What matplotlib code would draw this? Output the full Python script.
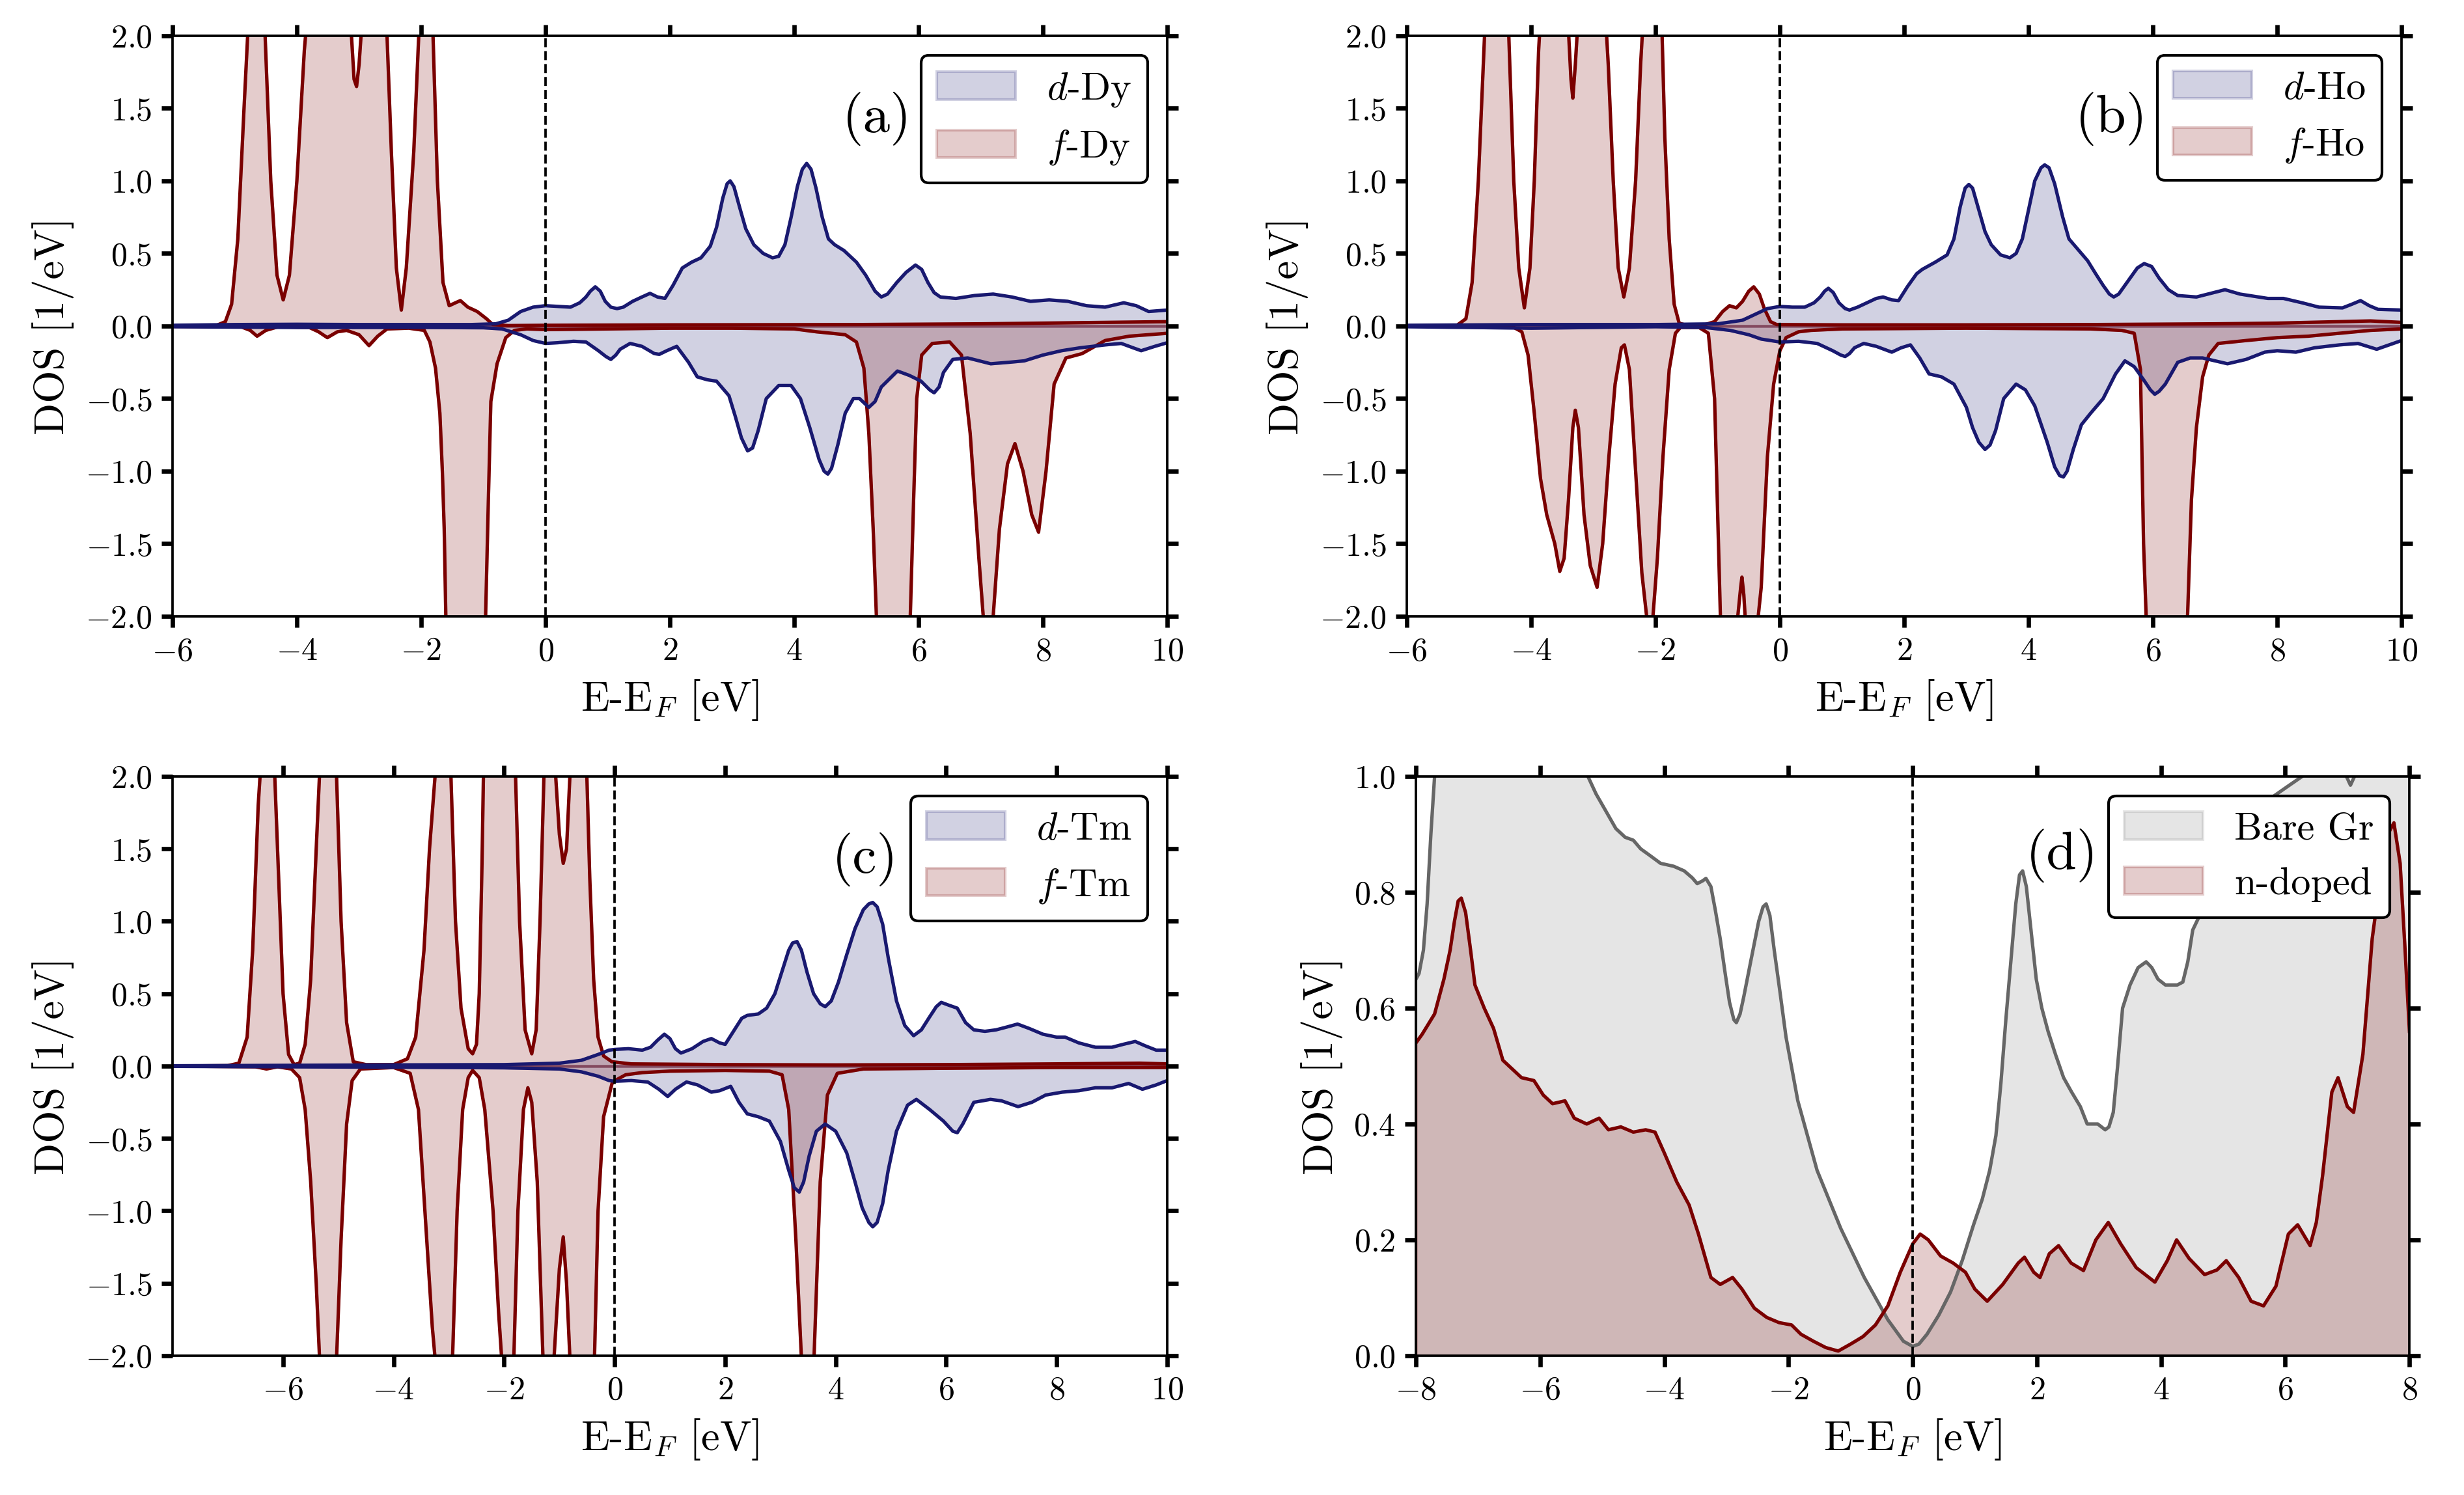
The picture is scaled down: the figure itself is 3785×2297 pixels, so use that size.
import matplotlib
matplotlib.use("Agg")
import matplotlib.pyplot as plt

plt.rcParams['font.family'] = 'serif'
plt.rcParams['font.serif'] = ['cmr10']
plt.rcParams['mathtext.fontset'] = 'cm'
plt.rcParams['axes.formatter.use_mathtext'] = True
plt.rcParams['axes.linewidth'] = 0.9

# ---------------- Panel (a): Dy ----------------
a_dup_E = [-6, -5, -4, -3, -2, -1.2, -0.8, -0.6, -0.4, -0.2, 0, 0.2, 0.4, 0.55, 0.65, 0.72, 0.8, 0.88, 0.96,
           1.05, 1.15, 1.25, 1.4, 1.55, 1.68, 1.8, 1.92, 2.05, 2.2, 2.35, 2.5, 2.65, 2.75, 2.85, 2.92, 2.97,
           3.03, 3.12, 3.22, 3.35, 3.5, 3.65, 3.75, 3.85, 3.95, 4.05, 4.13, 4.2, 4.27, 4.35, 4.45, 4.55, 4.65,
           4.8, 5.0, 5.15, 5.3, 5.4, 5.5, 5.65, 5.8, 5.95, 6.05, 6.15, 6.25, 6.35, 6.6, 6.9, 7.2, 7.5, 7.8,
           8.1, 8.4, 8.7, 9.0, 9.3, 9.5, 9.7, 10]
a_dup = [0.005, 0.01, 0.012, 0.01, 0.01, 0.01, 0.015, 0.04, 0.1, 0.13, 0.14, 0.135, 0.13, 0.16, 0.2, 0.24,
         0.27, 0.24, 0.17, 0.13, 0.12, 0.13, 0.17, 0.2, 0.225, 0.2, 0.19, 0.28, 0.4, 0.44, 0.47, 0.55, 0.68,
         0.88, 0.98, 1.0, 0.96, 0.82, 0.67, 0.56, 0.5, 0.47, 0.48, 0.56, 0.75, 0.96, 1.08, 1.12, 1.08, 0.95,
         0.75, 0.6, 0.56, 0.52, 0.44, 0.35, 0.24, 0.2, 0.22, 0.3, 0.37, 0.42, 0.39, 0.3, 0.23, 0.2, 0.19, 0.21,
         0.22, 0.2, 0.17, 0.18, 0.17, 0.14, 0.13, 0.16, 0.14, 0.1, 0.11]

a_ddn_E = [-6, -4, -2, -1, -0.7, -0.4, -0.2, 0, 0.2, 0.45, 0.65, 0.85, 0.97, 1.05, 1.13, 1.2, 1.36, 1.55, 1.75,
           1.83, 1.95, 2.11, 2.3, 2.44, 2.6, 2.75, 2.95, 3.05, 3.15, 3.25, 3.33, 3.42, 3.55, 3.75, 3.95, 4.1,
           4.25, 4.4, 4.48, 4.54, 4.6, 4.7, 4.82, 4.95, 5.05, 5.2, 5.3, 5.4, 5.66, 5.85, 6.04, 6.18, 6.25, 6.33,
           6.4, 6.55, 6.79, 7.16, 7.45, 7.7, 8.0, 8.3, 8.6, 9.0, 9.26, 9.45, 9.58, 9.8, 10]
a_ddn = [-0.005, -0.01, -0.01, -0.012, -0.02, -0.06, -0.1, -0.12, -0.115, -0.105, -0.11, -0.17, -0.21, -0.23,
         -0.2, -0.16, -0.12, -0.14, -0.19, -0.195, -0.17, -0.14, -0.25, -0.35, -0.37, -0.38, -0.48, -0.62,
         -0.77, -0.86, -0.84, -0.72, -0.5, -0.41, -0.41, -0.5, -0.7, -0.92, -1.0, -1.02, -0.98, -0.82, -0.6,
         -0.5, -0.5, -0.56, -0.52, -0.42, -0.31, -0.34, -0.38, -0.44, -0.46, -0.42, -0.32, -0.23, -0.22, -0.26,
         -0.25, -0.24, -0.2, -0.17, -0.15, -0.13, -0.12, -0.15, -0.17, -0.14, -0.115]

a_fup_E = [-6, -5.3, -5.15, -5.05, -4.95, -4.85, -4.78, -4.65, -4.52, -4.42, -4.32, -4.22, -4.12, -4.0, -3.88,
           -3.82, -3.6, -3.3, -3.15, -3.08, -3.04, -3.0, -2.92, -2.75, -2.6, -2.55, -2.48, -2.4, -2.32, -2.24,
           -2.12, -2.04, -1.92, -1.81, -1.74, -1.65, -1.55, -1.45, -1.37, -1.25, -1.1, -0.95, -0.85, -0.6, 0,
           2, 5, 7, 8, 9, 10]
a_fup = [0, 0.003, 0.03, 0.15, 0.6, 1.5, 2.1, 3.0, 2.1, 1.0, 0.35, 0.18, 0.35, 1.0, 1.9, 2.2, 3.5, 3.0, 2.2,
         1.7, 1.65, 1.8, 2.3, 3.0, 2.3, 2.0, 1.2, 0.4, 0.11, 0.4, 1.2, 2.0, 2.8, 2.0, 1.0, 0.3, 0.14, 0.16,
         0.175, 0.13, 0.1, 0.05, 0.01, 0.003, 0.005, 0.008, 0.01, 0.015, 0.02, 0.025, 0.03]

a_fdn_E = [-6, -4.9, -4.75, -4.64, -4.5, -4.3, -3.8, -3.65, -3.51, -3.35, -3.2, -3.0, -2.84, -2.7, -2.55, -2.2,
           -1.95, -1.86, -1.77, -1.7, -1.66, -1.63, -1.6, -1.5, -1.2, -0.97, -0.92, -0.88, -0.78, -0.64, -0.5,
           -0.3, 0, 1, 2, 3, 4, 4.36, 4.6, 4.82, 5.0, 5.12, 5.2, 5.27, 5.33, 5.5, 5.7, 5.86, 5.92, 5.97, 6.05,
           6.22, 6.5, 6.69, 6.83, 6.97, 7.04, 7.12, 7.2, 7.3, 7.43, 7.55, 7.68, 7.82, 7.93, 8.05, 8.18, 8.37,
           8.63, 9.0, 9.39, 10]
a_fdn = [-0.003, -0.005, -0.03, -0.07, -0.03, -0.005, -0.01, -0.04, -0.08, -0.04, -0.03, -0.06, -0.135, -0.07,
         -0.02, -0.015, -0.03, -0.11, -0.29, -0.6, -1.0, -1.4, -2.1, -3.0, -3.2, -2.1, -1.2, -0.52, -0.26, -0.08,
         -0.03, -0.02, -0.025, -0.02, -0.015, -0.015, -0.02, -0.04, -0.05, -0.06, -0.11, -0.29, -0.74, -1.4,
         -2.1, -3.0, -3.0, -2.1, -1.2, -0.5, -0.2, -0.12, -0.11, -0.2, -0.74, -1.6, -2.0, -2.12, -2.0, -1.4,
         -0.95, -0.81, -1.0, -1.3, -1.42, -1.0, -0.4, -0.22, -0.19, -0.1, -0.07, -0.05]

# ---------------- Panel (b): Ho ----------------
b_dup_E = [-6, -4, -2, -1, -0.6, -0.4, -0.2, 0, 0.2, 0.4, 0.55, 0.65, 0.72, 0.78, 0.86, 0.95, 1.05, 1.12, 1.25,
           1.4, 1.55, 1.66, 1.8, 1.91, 2.05, 2.2, 2.29, 2.5, 2.69, 2.8, 2.9, 2.98, 3.04, 3.1, 3.2, 3.3, 3.4,
           3.55, 3.7, 3.8, 3.9, 4.0, 4.1, 4.2, 4.26, 4.33, 4.42, 4.55, 4.65, 4.77, 4.95, 5.08, 5.2, 5.3, 5.37,
           5.45, 5.6, 5.75, 5.86, 5.98, 6.1, 6.25, 6.4, 6.7, 7.16, 7.4, 7.85, 8.1, 8.4, 8.67, 9.05, 9.2, 9.34,
           9.48, 9.62, 10]
b_dup = [0.005, 0.01, 0.01, 0.015, 0.04, 0.08, 0.12, 0.135, 0.13, 0.13, 0.16, 0.2, 0.24, 0.26, 0.23, 0.16,
         0.12, 0.11, 0.13, 0.16, 0.19, 0.2, 0.18, 0.175, 0.27, 0.36, 0.39, 0.44, 0.49, 0.6, 0.82, 0.95, 0.975,
         0.95, 0.8, 0.65, 0.56, 0.49, 0.47, 0.5, 0.6, 0.8, 1.0, 1.09, 1.11, 1.09, 0.98, 0.75, 0.6, 0.54, 0.45,
         0.36, 0.28, 0.22, 0.2, 0.22, 0.31, 0.4, 0.43, 0.41, 0.33, 0.25, 0.21, 0.2, 0.25, 0.22, 0.19, 0.19,
         0.16, 0.13, 0.125, 0.15, 0.175, 0.14, 0.115, 0.11]

b_ddn_E = [-6, -4, -3, -2, -1.2, -0.8, -0.5, -0.3, 0, 0.3, 0.6, 0.85, 0.98, 1.05, 1.12, 1.2, 1.35, 1.55, 1.8,
           1.95, 2.1, 2.25, 2.4, 2.6, 2.8, 3.0, 3.1, 3.2, 3.3, 3.38, 3.47, 3.6, 3.8, 3.95, 4.1, 4.3, 4.42, 4.5,
           4.56, 4.62, 4.72, 4.85, 5.0, 5.2, 5.4, 5.55, 5.7, 5.85, 5.96, 6.03, 6.1, 6.2, 6.4, 6.6, 6.8, 7.0,
           7.2, 7.5, 7.8, 8.0, 8.3, 8.6, 9.0, 9.3, 9.45, 9.6, 9.8, 10]
b_ddn = [-0.005, -0.015, -0.01, -0.005, -0.01, -0.03, -0.06, -0.09, -0.11, -0.105, -0.12, -0.17, -0.2, -0.21,
         -0.19, -0.15, -0.12, -0.14, -0.18, -0.15, -0.13, -0.22, -0.33, -0.35, -0.4, -0.56, -0.7, -0.8, -0.85,
         -0.82, -0.72, -0.5, -0.4, -0.44, -0.55, -0.8, -0.97, -1.03, -1.04, -1.0, -0.85, -0.68, -0.6, -0.5,
         -0.33, -0.24, -0.28, -0.37, -0.44, -0.47, -0.45, -0.4, -0.25, -0.22, -0.22, -0.24, -0.26, -0.23,
         -0.18, -0.17, -0.18, -0.15, -0.13, -0.12, -0.14, -0.16, -0.13, -0.1]

b_fup_E = [-6, -5.2, -5.05, -4.95, -4.85, -4.75, -4.6, -4.45, -4.36, -4.28, -4.2, -4.11, -4.02, -3.95, -3.88,
           -3.84, -3.6, -3.42, -3.36, -3.33, -3.29, -3.22, -3.0, -2.8, -2.76, -2.68, -2.6, -2.51, -2.42, -2.32,
           -2.24, -2.2, -2.05, -1.9, -1.85, -1.78, -1.7, -1.62, -1.5, -1.2, -1.05, -0.92, -0.81, -0.7, -0.6,
           -0.5, -0.42, -0.33, -0.25, -0.15, -0.05, 1, 3, 5, 7, 8, 9, 9.5, 10]
b_fup = [0, 0.003, 0.05, 0.3, 1.0, 2.0, 3.5, 2.4, 2.0, 1.0, 0.4, 0.125, 0.4, 1.0, 1.9, 2.2, 3.5, 2.2, 1.7,
         1.57, 1.8, 2.3, 3.5, 2.1, 1.8, 1.0, 0.4, 0.2, 0.4, 1.0, 1.8, 2.1, 3.0, 2.1, 1.3, 0.6, 0.15, 0.02,
         0.005, 0.01, 0.03, 0.1, 0.14, 0.125, 0.17, 0.24, 0.27, 0.22, 0.12, 0.03, 0.01, 0.008, 0.008, 0.01,
         0.015, 0.02, 0.03, 0.035, 0.025]

b_fdn_E = [-6, -4.3, -4.15, -4.05, -3.95, -3.85, -3.75, -3.62, -3.54, -3.47, -3.4, -3.33, -3.29, -3.24, -3.15,
           -3.05, -2.94, -2.85, -2.75, -2.65, -2.55, -2.5, -2.42, -2.32, -2.22, -2.13, -2.05, -1.97, -1.88,
           -1.78, -1.68, -1.6, -1.3, -1.15, -1.05, -1.0, -0.95, -0.85, -0.7, -0.63, -0.61, -0.58, -0.53, -0.45,
           -0.36, -0.3, -0.2, -0.1, 0, 0.1, 0.3, 0.5, 1, 3, 5, 5.5, 5.7, 5.8, 5.85, 5.9, 6.2, 6.55, 6.62, 6.7,
           6.8, 6.9, 7.05, 7.5, 8.0, 8.5, 9.0, 9.5, 10]
b_fdn = [-0.002, -0.005, -0.04, -0.2, -0.6, -1.05, -1.3, -1.5, -1.69, -1.6, -1.2, -0.7, -0.58, -0.7, -1.3,
         -1.65, -1.8, -1.5, -0.9, -0.4, -0.15, -0.13, -0.3, -1.0, -1.7, -2.05, -2.05, -1.6, -0.9, -0.3, -0.05,
         -0.01, -0.01, -0.05, -0.5, -1.3, -2.1, -2.5, -2.1, -1.8, -1.73, -1.85, -2.2, -2.5, -2.05, -1.8, -0.9,
         -0.4, -0.17, -0.08, -0.04, -0.03, -0.02, -0.015, -0.02, -0.03, -0.05, -0.3, -1.5, -2.1, -3.0, -2.1,
         -1.2, -0.7, -0.35, -0.2, -0.12, -0.1, -0.08, -0.07, -0.05, -0.03, -0.02]

# ---------------- Panel (c): Tm ----------------
c_dup_E = [-8, -6, -4, -2, -1, -0.6, -0.3, -0.1, 0, 0.25, 0.5, 0.65, 0.78, 0.9, 1.0, 1.1, 1.2, 1.4, 1.6, 1.75,
           1.9, 2.0, 2.15, 2.3, 2.4, 2.6, 2.75, 2.9, 3.05, 3.15, 3.22, 3.3, 3.38, 3.48, 3.6, 3.72, 3.81, 3.92,
           4.05, 4.2, 4.35, 4.5, 4.6, 4.67, 4.75, 4.85, 4.95, 5.1, 5.25, 5.41, 5.55, 5.7, 5.82, 5.91, 6.05,
           6.2, 6.35, 6.5, 6.7, 6.9, 7.1, 7.29, 7.5, 7.75, 8.0, 8.15, 8.4, 8.7, 9.0, 9.2, 9.42, 9.6, 9.8, 10]
c_dup = [0.002, 0.005, 0.008, 0.01, 0.02, 0.04, 0.08, 0.11, 0.115, 0.12, 0.11, 0.13, 0.18, 0.22, 0.19, 0.12,
         0.09, 0.12, 0.17, 0.19, 0.16, 0.15, 0.24, 0.33, 0.35, 0.36, 0.4, 0.5, 0.68, 0.8, 0.85, 0.86, 0.8,
         0.65, 0.5, 0.43, 0.41, 0.45, 0.58, 0.77, 0.95, 1.08, 1.12, 1.13, 1.1, 0.98, 0.75, 0.45, 0.28, 0.21,
         0.25, 0.34, 0.41, 0.44, 0.42, 0.4, 0.3, 0.25, 0.24, 0.25, 0.27, 0.29, 0.26, 0.22, 0.2, 0.2, 0.16, 0.13,
         0.13, 0.15, 0.17, 0.14, 0.11, 0.11]

c_ddn_E = [-8, -6, -4, -2, -1, -0.6, -0.3, -0.1, 0, 0.3, 0.6, 0.8, 0.96, 1.1, 1.3, 1.5, 1.75, 1.9, 2.1, 2.25,
           2.4, 2.6, 2.8, 3.0, 3.15, 3.25, 3.34, 3.42, 3.52, 3.65, 3.81, 4.0, 4.2, 4.35, 4.48, 4.6, 4.67, 4.75,
           4.85, 4.95, 5.1, 5.3, 5.46, 5.7, 5.95, 6.12, 6.2, 6.3, 6.5, 6.8, 7.0, 7.3, 7.55, 7.8, 8.1, 8.4, 8.7,
           9.0, 9.3, 9.55, 9.8, 10]
c_ddn = [-0.002, -0.005, -0.008, -0.012, -0.02, -0.04, -0.07, -0.1, -0.105, -0.1, -0.11, -0.16, -0.21, -0.16,
         -0.11, -0.13, -0.18, -0.17, -0.14, -0.25, -0.33, -0.35, -0.38, -0.52, -0.72, -0.84, -0.87, -0.8, -0.62,
         -0.45, -0.4, -0.45, -0.6, -0.8, -0.98, -1.08, -1.11, -1.08, -0.95, -0.72, -0.45, -0.27, -0.23, -0.3,
         -0.38, -0.45, -0.46, -0.4, -0.25, -0.23, -0.24, -0.28, -0.25, -0.2, -0.18, -0.17, -0.15, -0.15, -0.12,
         -0.16, -0.13, -0.1]

c_fup_E = [-8, -7, -6.8, -6.65, -6.55, -6.45, -6.4, -6.28, -6.16, -6.1, -6.0, -5.9, -5.8, -5.7, -5.6, -5.5,
           -5.4, -5.33, -5.18, -5.04, -4.95, -4.85, -4.73, -4.5, -4.0, -3.75, -3.6, -3.45, -3.35, -3.23, -3.1,
           -2.97, -2.88, -2.78, -2.65, -2.57, -2.5, -2.45, -2.4, -2.37, -2.1, -1.8, -1.72, -1.62, -1.5, -1.42,
           -1.35, -1.28, -1.2, -1.1, -1.0, -0.93, -0.87, -0.81, -0.75, -0.63, -0.51, -0.45, -0.38, -0.3, -0.2,
           -0.05, 0.3, 2, 4, 6, 8, 9.5, 10]
c_fup = [0, 0.003, 0.02, 0.2, 0.8, 1.8, 2.1, 3.5, 2.1, 1.5, 0.5, 0.08, 0.01, 0.02, 0.15, 0.6, 1.5, 2.1, 3.5,
         2.1, 1.0, 0.3, 0.03, 0.01, 0.01, 0.05, 0.2, 0.8, 1.5, 2.1, 3.5, 2.1, 1.0, 0.4, 0.12, 0.085, 0.15, 0.5,
         1.4, 2.1, 4.0, 2.1, 1.0, 0.25, 0.085, 0.25, 1.0, 2.0, 3.0, 2.2, 1.6, 1.4, 1.5, 2.0, 2.6, 3.0, 2.1,
         1.3, 0.6, 0.2, 0.07, 0.03, 0.015, 0.01, 0.008, 0.01, 0.015, 0.02, 0.015]

c_fdn_E = [-8, -6.5, -6.3, -6.1, -5.85, -5.7, -5.6, -5.5, -5.4, -5.33, -5.18, -5.04, -4.95, -4.85, -4.75, -4.6,
           -4.0, -3.7, -3.55, -3.4, -3.3, -3.23, -3.1, -2.94, -2.85, -2.75, -2.65, -2.57, -2.45, -2.35, -2.2,
           -2.1, -2.03, -1.93, -1.83, -1.75, -1.65, -1.57, -1.5, -1.4, -1.29, -1.2, -1.11, -1.0, -0.93, -0.87,
           -0.8, -0.6, -0.37, -0.3, -0.2, -0.04, 0.2, 0.5, 1.0, 2.0, 2.8, 3.03, 3.15, 3.28, 3.39, 3.5, 3.6,
           3.72, 3.85, 4.03, 4.5, 6, 8, 10]
c_fdn = [0, -0.005, -0.02, -0.005, -0.02, -0.08, -0.3, -0.8, -1.5, -2.1, -3.5, -2.1, -1.2, -0.4, -0.1, -0.02,
         -0.01, -0.05, -0.3, -1.2, -1.8, -2.1, -3.5, -2.1, -1.0, -0.3, -0.08, -0.03, -0.08, -0.3, -1.0, -1.7,
         -2.1, -2.6, -2.1, -1.0, -0.3, -0.15, -0.25, -0.8, -2.1, -2.6, -2.1, -1.4, -1.18, -1.5, -2.1, -3.0,
         -2.1, -1.0, -0.35, -0.11, -0.06, -0.045, -0.035, -0.03, -0.035, -0.06, -0.3, -1.2, -2.1, -3.0, -2.1,
         -0.8, -0.2, -0.05, -0.02, -0.015, -0.01, -0.01]

# ---------------- Panel (d): graphene ----------------
d_gr_E = [-8, -7.95, -7.88, -7.82, -7.76, -7.7, -7.5, -6.5, -5.5, -5.23, -5.1, -4.94, -4.78, -4.63, -4.5, -4.38,
          -4.25, -4.06, -3.85, -3.68, -3.55, -3.47, -3.38, -3.33, -3.25, -3.18, -3.1, -3.02, -2.95, -2.88,
          -2.84, -2.78, -2.72, -2.61, -2.48, -2.41, -2.36, -2.3, -2.23, -2.14, -2.04, -1.85, -1.54, -1.16,
          -0.78, -0.4, -0.15, 0, 0.1, 0.23, 0.42, 0.61, 0.8, 0.98, 1.12, 1.24, 1.34, 1.42, 1.5, 1.58, 1.66,
          1.72, 1.77, 1.83, 1.9, 1.99, 2.08, 2.18, 2.3, 2.43, 2.56, 2.7, 2.81, 2.98, 3.1, 3.16, 3.23, 3.3,
          3.38, 3.5, 3.63, 3.76, 3.85, 3.95, 4.07, 4.26, 4.35, 4.43, 4.51, 4.8, 5.2, 5.6, 6.0, 6.27, 6.6, 6.9,
          7.05, 7.2, 7.5, 8]
d_gr = [0.65, 0.66, 0.7, 0.78, 0.9, 1.0, 1.15, 1.25, 1.1, 1.0, 0.97, 0.94, 0.91, 0.895, 0.89, 0.875, 0.865,
        0.85, 0.845, 0.837, 0.825, 0.815, 0.82, 0.824, 0.81, 0.77, 0.72, 0.66, 0.61, 0.58, 0.575, 0.59, 0.62,
        0.68, 0.75, 0.775, 0.78, 0.76, 0.70, 0.63, 0.55, 0.44, 0.32, 0.22, 0.135, 0.062, 0.025, 0.016, 0.02,
        0.037, 0.07, 0.11, 0.165, 0.226, 0.27, 0.32, 0.38, 0.47, 0.58, 0.68, 0.78, 0.83, 0.837, 0.81, 0.74,
        0.65, 0.6, 0.56, 0.52, 0.48, 0.455, 0.43, 0.40, 0.40, 0.39, 0.395, 0.42, 0.5, 0.6, 0.64, 0.67, 0.68,
        0.67, 0.65, 0.64, 0.64, 0.645, 0.68, 0.735, 0.8, 0.88, 0.95, 0.98, 1.0, 1.05, 1.02, 0.985, 1.02, 1.1,
        1.2]

d_nd_E = [-8, -7.9, -7.7, -7.55, -7.45, -7.38, -7.32, -7.27, -7.2, -7.12, -7.05, -6.9, -6.75, -6.6, -6.45, -6.3,
          -6.1, -5.95, -5.8, -5.6, -5.45, -5.25, -5.05, -4.9, -4.7, -4.5, -4.3, -4.15, -4.0, -3.8, -3.6, -3.45,
          -3.25, -3.1, -2.9, -2.75, -2.55, -2.35, -2.15, -1.95, -1.8, -1.6, -1.4, -1.2, -1.0, -0.8, -0.6, -0.4,
          -0.2, 0.0, 0.12, 0.25, 0.45, 0.65, 0.85, 1.0, 1.2, 1.45, 1.7, 1.8, 1.95, 2.05, 2.2, 2.35, 2.55, 2.75,
          2.95, 3.15, 3.35, 3.6, 3.9, 4.1, 4.25, 4.45, 4.7, 4.9, 5.05, 5.25, 5.45, 5.65, 5.85, 6.05, 6.2, 6.4,
          6.5, 6.6, 6.75, 6.85, 7.0, 7.1, 7.25, 7.4, 7.55, 7.65, 7.75, 7.85, 7.93, 8.0]
d_nd = [0.54, 0.555, 0.59, 0.65, 0.7, 0.75, 0.785, 0.79, 0.765, 0.7, 0.64, 0.6, 0.565, 0.51, 0.495, 0.48,
        0.475, 0.45, 0.435, 0.44, 0.41, 0.40, 0.41, 0.39, 0.395, 0.386, 0.39, 0.386, 0.35, 0.30, 0.26, 0.21,
        0.135, 0.123, 0.135, 0.115, 0.082, 0.066, 0.057, 0.053, 0.037, 0.025, 0.014, 0.008, 0.02, 0.033, 0.053,
        0.086, 0.144, 0.193, 0.21, 0.20, 0.172, 0.16, 0.144, 0.115, 0.094, 0.123, 0.16, 0.17, 0.144, 0.135,
        0.176, 0.19, 0.16, 0.147, 0.20, 0.23, 0.193, 0.152, 0.127, 0.164, 0.20, 0.168, 0.14, 0.148, 0.164,
        0.135, 0.094, 0.086, 0.12, 0.21, 0.226, 0.19, 0.23, 0.31, 0.455, 0.48, 0.43, 0.42, 0.52, 0.72, 0.84,
        0.9, 0.92, 0.85, 0.7, 0.56]

C_D = '#191970'
C_F = '#7a0000'
C_GR = '#666666'
LW = 1.25

fig = plt.figure(figsize=(12.62, 7.657), dpi=300)
ax_a = fig.add_axes([0.0700, 0.5877, 0.4036, 0.3884])
ax_b = fig.add_axes([0.5708, 0.5877, 0.4036, 0.3884])
ax_c = fig.add_axes([0.0700, 0.0932, 0.4036, 0.3874])
ax_d = fig.add_axes([0.5745, 0.0932, 0.4031, 0.3874])


def style(ax):
    ax.tick_params(direction='out', length=4, width=1.6, top=True, right=True, labelsize=12, pad=3.5)
    ax.set_xlabel(r'E-E$_F$ [eV]', fontsize=15.5)
    ax.set_ylabel('DOS [1/eV]', fontsize=15.5)
    ax.axvline(0, color='k', ls='--', lw=0.9, zorder=4)


def add_legend(ax):
    leg = ax.legend(loc='upper right', fontsize=14.5, fancybox=True, framealpha=1, edgecolor='k')
    leg.get_frame().set_linewidth(1.0)


def spin_panel(ax, dE, dup, ddn, dnE, fE, fup, fdn, fdnE, el, label, xlim, xticks):
    ax.fill_between(dE, dup, 0, color=C_D, alpha=0.2, label=r'$d$-' + el)
    ax.fill_between(dnE, ddn, 0, color=C_D, alpha=0.2)
    ax.fill_between(fE, fup, 0, color=C_F, alpha=0.2, label=r'$f$-' + el)
    ax.fill_between(fdnE, fdn, 0, color=C_F, alpha=0.2)
    ax.plot(fE, fup, color=C_F, lw=LW)
    ax.plot(fdnE, fdn, color=C_F, lw=LW)
    ax.plot(dE, dup, color=C_D, lw=LW)
    ax.plot(dnE, ddn, color=C_D, lw=LW)
    ax.set_xlim(*xlim)
    ax.set_ylim(-2, 2)
    ax.set_xticks(xticks)
    ax.set_yticks([-2.0, -1.5, -1.0, -0.5, 0.0, 0.5, 1.0, 1.5, 2.0])
    style(ax)
    add_legend(ax)
    ax.text(label[1], 0.857, label[0], transform=ax.transAxes, fontsize=20, ha='center', va='center')


spin_panel(ax_a, a_dup_E, a_dup, a_ddn, a_ddn_E, a_fup_E, a_fup, a_fdn, a_fdn_E, 'Dy', ('(a)', 0.708),
           (-6, 10), [-6, -4, -2, 0, 2, 4, 6, 8, 10])
spin_panel(ax_b, b_dup_E, b_dup, b_ddn, b_ddn_E, b_fup_E, b_fup, b_fdn, b_fdn_E, 'Ho', ('(b)', 0.708),
           (-6, 10), [-6, -4, -2, 0, 2, 4, 6, 8, 10])
spin_panel(ax_c, c_dup_E, c_dup, c_ddn, c_ddn_E, c_fup_E, c_fup, c_fdn, c_fdn_E, 'Tm', ('(c)', 0.696),
           (-8, 10), [-6, -4, -2, 0, 2, 4, 6, 8, 10])

# panel d
ax_d.fill_between(d_gr_E, d_gr, 0, color='gray', alpha=0.2, label='Bare Gr')
ax_d.fill_between(d_nd_E, d_nd, 0, color=C_F, alpha=0.2, label='n-doped')
ax_d.plot(d_gr_E, d_gr, color=C_GR, lw=LW)
ax_d.plot(d_nd_E, d_nd, color=C_F, lw=LW)
ax_d.set_xlim(-8, 8)
ax_d.set_ylim(0, 1)
ax_d.set_xticks([-8, -6, -4, -2, 0, 2, 4, 6, 8])
ax_d.set_yticks([0.0, 0.2, 0.4, 0.6, 0.8, 1.0])
style(ax_d)
add_legend(ax_d)
ax_d.text(0.65, 0.864, '(d)', transform=ax_d.transAxes, fontsize=20, ha='center', va='center')

fig.savefig('out.png', dpi=300)
